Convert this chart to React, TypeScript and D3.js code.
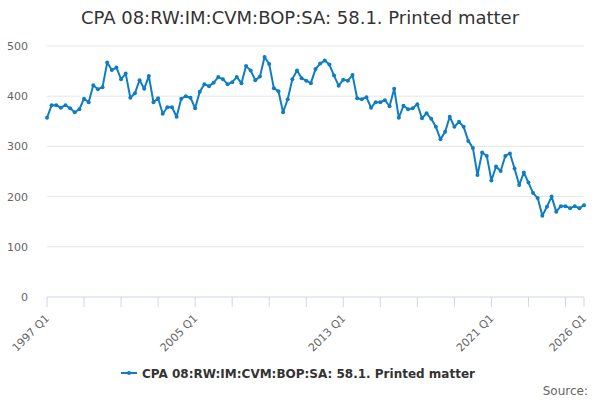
import React from 'react';
import * as d3 from 'd3';

// Quarterly series, 1997 Q1 .. 2026 Q1
const startYear = 1997;
const values: number[] = [
  357, 382, 382, 377, 382, 376, 368, 374, 395, 388,
  422, 414, 418, 467, 452, 457, 434, 445, 397, 406,
  432, 415, 440, 388, 396, 365, 378, 378, 359, 395,
  400, 397, 376, 409, 424, 420, 427, 438, 434, 424,
  428, 438, 426, 460, 451, 432, 439, 478, 464, 416,
  410, 368, 394, 434, 451, 436, 431, 426, 454, 465,
  471, 463, 441, 421, 433, 431, 442, 396, 394, 398,
  377, 388, 388, 392, 380, 415, 357, 381, 374, 376,
  384, 356, 366, 355, 339, 314, 329, 359, 339, 349,
  339, 311, 297, 243, 288, 281, 232, 260, 251, 281,
  286, 256, 223, 248, 228, 207, 197, 162, 180, 200,
  170, 181, 181, 177, 181, 177, 183,
];
const categories = values.map((_, i) => `${startYear + Math.floor(i / 4)} Q${(i % 4) + 1}`);
const yTicks = [0, 100, 200, 300, 400, 500];
const labelEvery = 32;
const tickEvery = 8;

const title = 'CPA 08:RW:IM:CVM:BOP:SA: 58.1. Printed matter';
const seriesName = 'CPA 08:RW:IM:CVM:BOP:SA: 58.1. Printed matter';

const W = 600;
const H = 400;
const FONT = '"DejaVu Sans", Arial, sans-serif';
const LINE = '#0f7dc2';

export default function App() {
  const margin = { top: 46, right: 16, bottom: 103, left: 47 };
  const x = d3.scaleLinear().domain([0, values.length - 1]).range([margin.left, W - margin.right]);
  const y = d3.scaleLinear().domain([0, 500]).range([H - margin.bottom, margin.top]);

  const line = d3.line<number>().x((_, i) => x(i)).y((d) => y(d));

  const last = values.length - 1;
  const tickIdx = d3.range(0, last, tickEvery).concat([last]);
  const labelIdx = d3.range(0, last - 4, labelEvery).concat([last]);

  return (
    <svg
      width={W}
      height={H}
      style={{ position: 'absolute', left: 0, top: 0, background: '#fff' }}
      fontFamily={FONT}
    >
      <text x={W / 2} y={24} textAnchor="middle" fontSize={18} fill="#333">
        {title}
      </text>

      {/* grid + y labels */}
      {yTicks.map((t) => (
        <g key={t}>
          {t > 0 && (
            <line x1={x(0)} x2={x(last)} y1={y(t)} y2={y(t)} stroke="#e6e6e6" strokeWidth={1} />
          )}
          <text x={28} y={y(t) + 4} textAnchor="end" fontSize={11} fill="#666">
            {t}
          </text>
        </g>
      ))}

      {/* x axis */}
      <line x1={x(0)} x2={x(last)} y1={y(0)} y2={y(0)} stroke="#ccd6eb" strokeWidth={1} />
      {tickIdx.map((i) => (
        <line key={i} x1={x(i)} x2={x(i)} y1={y(0)} y2={y(0) + 10} stroke="#ccd6eb" strokeWidth={1} />
      ))}
      {labelIdx.map((i) => (
        <text
          key={i}
          transform={`translate(${x(i) + 3},${y(0) + 22}) rotate(-45)`}
          textAnchor="end"
          fontSize={11}
          fill="#666"
        >
          {categories[i]}
        </text>
      ))}

      {/* series */}
      <path d={line(values) ?? ''} fill="none" stroke={LINE} strokeWidth={2} strokeLinejoin="round" />
      {values.map((v, i) => (
        <circle key={i} cx={x(i)} cy={y(v)} r={2} fill={LINE} />
      ))}

      {/* legend */}
      <g>
        <line x1={121} x2={137} y1={373} y2={373} stroke={LINE} strokeWidth={2} />
        <circle cx={129} cy={373} r={2} fill={LINE} />
        <text x={142} y={377.5} fontSize={12} fontWeight="bold" fill="#333">
          {seriesName}
        </text>
      </g>

      <text x={588} y={395} textAnchor="end" fontSize={12} fill="#666">
        Source:
      </text>
    </svg>
  );
}
